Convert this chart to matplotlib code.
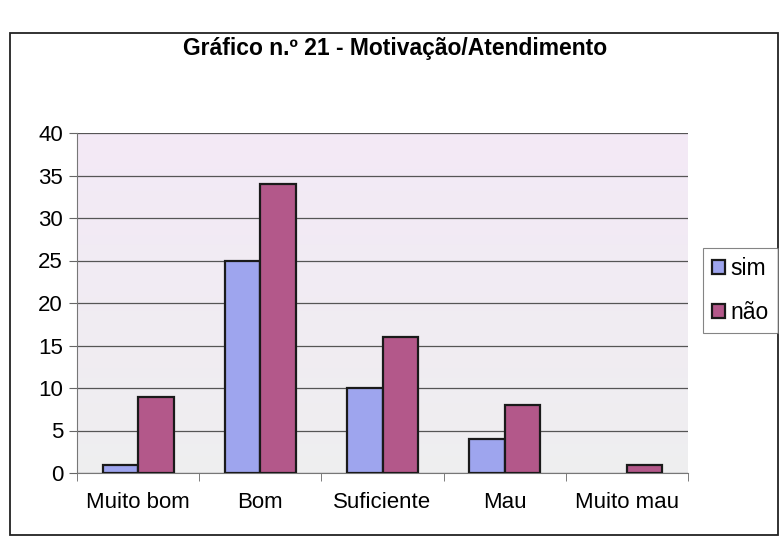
import numpy as np
import matplotlib.pyplot as plt
from matplotlib.patches import Rectangle

categories = ["Muito bom", "Bom", "Suficiente", "Mau", "Muito mau"]
sim = [1, 25, 10, 4, 0]
nao = [9, 34, 16, 8, 1]
series_names = ["sim", "não"]
yticks = [0, 5, 10, 15, 20, 25, 30, 35, 40]
title = "Gráfico n.º 21 - Motivação/Atendimento"

plt.rcParams["font.family"] = ["Liberation Sans", "DejaVu Sans"]

fig = plt.figure(figsize=(7.79, 5.43), dpi=100)
fig.patch.set_facecolor("white")

# outer chart frame
fig.patches.append(Rectangle((10 / 779, 1 - 535 / 543), 0.999 - 10 / 779, (535 - 33) / 543,
                             transform=fig.transFigure, fill=False,
                             edgecolor="#222222", linewidth=1.3))

ax = fig.add_axes([77 / 779, 1 - 473 / 543, (688 - 77) / 779, (473 - 133) / 543])

# plot-area background: lavender fading to light grey
grad = np.linspace(0, 1, 256).reshape(-1, 1, 1)
top = np.array([0.955, 0.915, 0.965])
bot = np.array([0.935, 0.935, 0.94])
img = bot + (top - bot) * grad
ax.imshow(img, aspect="auto", extent=(-0.5, 4.5, 0, 40), origin="lower", zorder=0)

x = np.arange(len(categories))
w = 0.29
ax.bar(x - w / 2, sim, width=w, color="#9ea5ee", edgecolor="#1a1a1a",
       linewidth=[0 if v == 0 else 1.6 for v in sim], label=series_names[0], zorder=3)
ax.bar(x + w / 2, nao, width=w, color="#b3588a", edgecolor="#1a1a1a",
       linewidth=[0 if v == 0 else 1.6 for v in nao], label=series_names[1], zorder=3)

ax.set_xlim(-0.5, 4.5)
ax.set_ylim(0, 40)
ax.set_yticks(yticks)
ax.yaxis.grid(True, color="#555555", linewidth=0.9, zorder=1)
ax.set_axisbelow(True)

ax.set_xticks(x)
ax.set_xticklabels(categories, fontsize=16)
ax.tick_params(axis="x", length=0, pad=14)
ax.set_xticks(np.arange(-0.5, 5.0, 1.0), minor=True)
ax.tick_params(axis="x", which="minor", length=6, color="#666666")
ax.tick_params(axis="y", labelsize=16, length=6, color="#666666", pad=4)

for s in ["top", "right"]:
    ax.spines[s].set_visible(False)
ax.spines["left"].set_color("#777777")
ax.spines["bottom"].set_color("#777777")

fig.text(395 / 779, 1 - 48 / 543, title, ha="center", va="center",
         fontsize=16.5, fontweight="bold")

leg = fig.legend(loc="upper left", bbox_to_anchor=(703 / 779, 1 - 248 / 543),
                 fontsize=16.5, frameon=True, fancybox=False, edgecolor="#666666",
                 handlelength=0.55, handleheight=0.55, handletextpad=0.25,
                 borderpad=0.4, borderaxespad=0.0, labelspacing=0.9)
leg.get_frame().set_linewidth(0.8)

fig.savefig("out.png", dpi=100)
